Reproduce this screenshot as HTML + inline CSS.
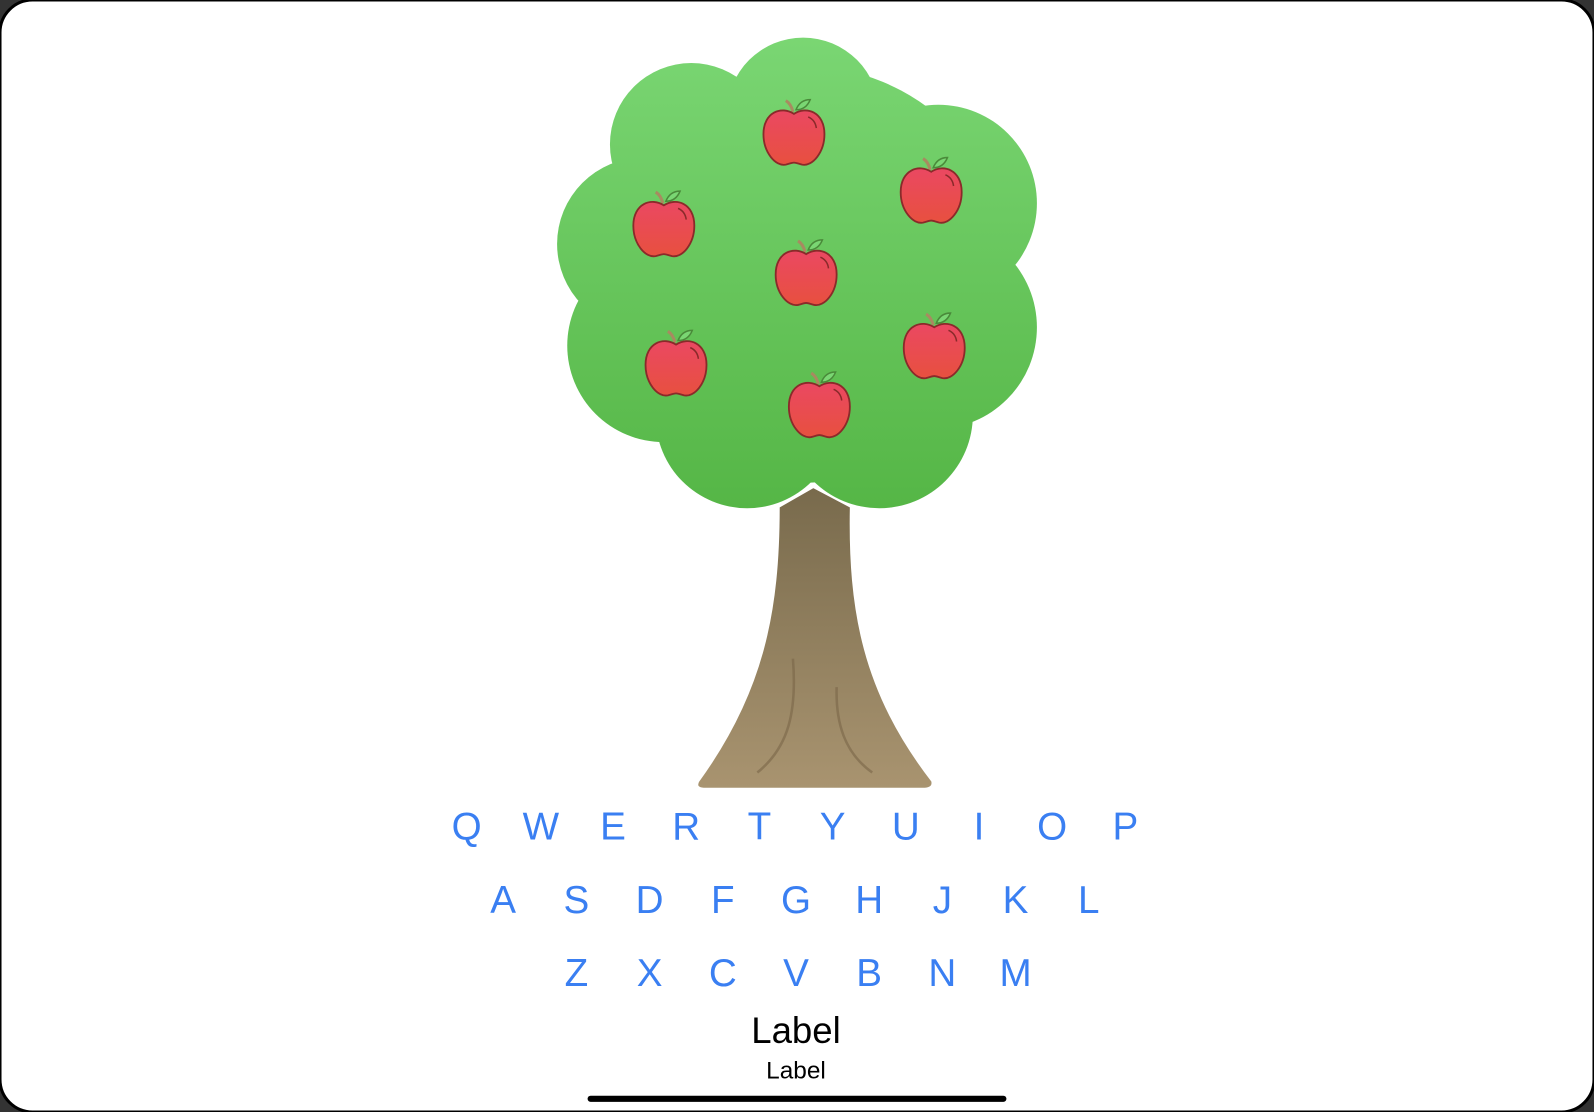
<!DOCTYPE html>
<html><head><meta charset="utf-8"><style>
html,body{margin:0;padding:0;background:#333;width:1594px;height:1112px;overflow:hidden}
svg{display:block}
text{font-family:"Liberation Sans",sans-serif}
</style></head><body>
<svg width="1594" height="1112" viewBox="0 0 1568 1094" preserveAspectRatio="none">
<defs>
<linearGradient id="leaf" gradientUnits="userSpaceOnUse" x1="0" y1="37" x2="0" y2="500"><stop offset="0" stop-color="#7ad673"/><stop offset="1" stop-color="#55b646"/></linearGradient>
<linearGradient id="bark" x1="0" y1="0" x2="0" y2="1"><stop offset="0" stop-color="#786a4c"/><stop offset="1" stop-color="#a99470"/></linearGradient>
<linearGradient id="apl" x1="0" y1="0" x2="0" y2="1"><stop offset="0" stop-color="#ea4862"/><stop offset="1" stop-color="#e8503f"/></linearGradient>
<g id="apple">
<path d="M-1,-22 Q-3,-30 -8,-33" stroke="#a88a60" stroke-width="3" fill="none"/>
<path d="M2,-24 Q6,-34 16,-34 Q12,-24 2,-24Z" fill="#7ad673" stroke="#4a8a3a" stroke-width="1.5"/>
<path d="M0,-20 C-12,-28 -30,-22 -30,0 C-30,18 -18,32 -8,30 C-4,29 -2,28 0,28 C2,28 4,29 8,30 C18,32 30,18 30,0 C30,-22 12,-28 0,-20Z" fill="url(#apl)" stroke="#8a2a2a" stroke-width="1.8"/>
<path d="M14,-17 Q21,-14 22,-6" stroke="#8a2a2a" stroke-width="1.5" fill="none"/>
</g>
</defs>
<rect x="0" y="0" width="1568" height="1094" rx="32" fill="#fff" stroke="#000" stroke-width="3"/>
<g>
<path d="M765,498 L800,478 L838,498 C836,600 850,680 918,768 Q920,776 910,777 L692,777 Q682,776 686,768 C750,680 765,600 765,498Z" fill="url(#bark)" stroke="#fff" stroke-width="4"/>
<path d="M780,648 C784,700 776,735 745,760" stroke="#7a6648" stroke-width="2.5" fill="none" opacity="0.6"/>
<path d="M823,676 C822,710 830,740 858,760" stroke="#7a6648" stroke-width="2.5" fill="none" opacity="0.6"/>
</g>
<g fill="url(#leaf)">
<circle cx="790" cy="112" r="75"/><circle cx="680" cy="142" r="80"/><circle cx="923" cy="200" r="97"/>
<circle cx="633" cy="240" r="85"/><circle cx="653" cy="340" r="95"/><circle cx="920" cy="322" r="100"/>
<circle cx="735" cy="410" r="90"/><circle cx="865" cy="408" r="92"/><circle cx="790" cy="270" r="205"/>
</g>
<g>
<use href="#apple" x="781" y="132"/>
<use href="#apple" x="916" y="189"/>
<use href="#apple" x="653" y="222"/>
<use href="#apple" x="793" y="270"/>
<use href="#apple" x="665" y="359"/>
<use href="#apple" x="919" y="342"/>
<use href="#apple" x="806" y="400"/>
</g>
<g font-size="38" fill="#3a7ff2" text-anchor="middle">
<text x="459" y="826">Q</text>
<text x="532" y="826">W</text>
<text x="603" y="826">E</text>
<text x="675" y="826">R</text>
<text x="747" y="826">T</text>
<text x="819" y="826">Y</text>
<text x="891" y="826">U</text>
<text x="963" y="826">I</text>
<text x="1035" y="826">O</text>
<text x="1107" y="826">P</text>
<text x="495" y="898">A</text>
<text x="567" y="898">S</text>
<text x="639" y="898">D</text>
<text x="711" y="898">F</text>
<text x="783" y="898">G</text>
<text x="855" y="898">H</text>
<text x="927" y="898">J</text>
<text x="999" y="898">K</text>
<text x="1071" y="898">L</text>
<text x="567" y="970">Z</text>
<text x="639" y="970">X</text>
<text x="711" y="970">C</text>
<text x="783" y="970">V</text>
<text x="855" y="970">B</text>
<text x="927" y="970">N</text>
<text x="999" y="970">M</text>
</g>
<text x="783" y="1026" font-size="36" text-anchor="middle" fill="#000">Label</text>
<text x="783" y="1061" font-size="24" text-anchor="middle" fill="#000">Label</text>
<rect x="578" y="1078" width="412" height="6" rx="3" fill="#000"/>
</svg>
</body></html>
